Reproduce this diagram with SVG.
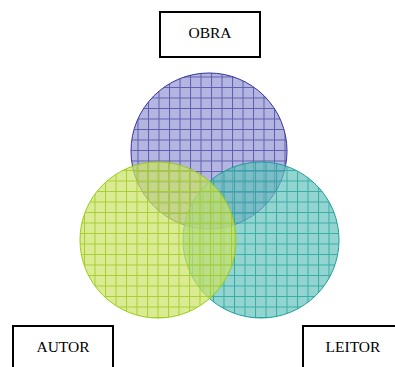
<svg xmlns="http://www.w3.org/2000/svg" width="395" height="367" viewBox="0 0 395 367">
<style>
.box{fill:#fff;stroke:#000;stroke-width:2}
.lbl{font-family:"Liberation Serif",serif;font-size:15.5px;fill:#000;text-anchor:middle}
</style>
<defs>
<pattern id="chk" patternUnits="userSpaceOnUse" width="2" height="2">
<rect width="1" height="1" fill="#fff" fill-opacity="0.18"/>
<rect x="1" y="1" width="1" height="1" fill="#fff" fill-opacity="0.18"/>
</pattern>
<pattern id="pP" patternUnits="userSpaceOnUse" width="10.5" height="10.5" x="1" y="3">
<rect width="10.5" height="10.5" fill="#8e8ed2" fill-opacity="0.72"/>
<rect width="10.5" height="10.5" fill="url(#chk)"/>
<path d="M0 0.5H10.5M0.5 0V10.5" stroke="#3a3a9c" stroke-width="1" stroke-opacity="0.7"/>
</pattern>
<pattern id="pY" patternUnits="userSpaceOnUse" width="10.5" height="10.5" x="0" y="2">
<rect width="10.5" height="10.5" fill="#c4de50" fill-opacity="0.68"/>
<rect width="10.5" height="10.5" fill="url(#chk)"/>
<path d="M0 0.5H10.5M0.5 0V10.5" stroke="#9ccc22" stroke-width="1" stroke-opacity="0.85"/>
</pattern>
<pattern id="pT" patternUnits="userSpaceOnUse" width="10.5" height="10.5" x="3" y="2">
<rect width="10.5" height="10.5" fill="#4ab8b0" fill-opacity="0.66"/>
<rect width="10.5" height="10.5" fill="url(#chk)"/>
<path d="M0 0.5H10.5M0.5 0V10.5" stroke="#1a9e98" stroke-width="1" stroke-opacity="0.75"/>
</pattern>
</defs>
<g id="circles">
<circle id="obra-circle" cx="209" cy="151" r="78" fill="url(#pP)" stroke="#33339a" stroke-width="1"/>
<circle id="leitor-circle" cx="261" cy="240" r="78" fill="url(#pT)" stroke="#1a9f9a" stroke-width="1"/>
<circle id="autor-circle" cx="158" cy="240" r="78" fill="url(#pY)" stroke="#99cc11" stroke-width="1"/>
</g>
<g id="obra">
<rect class="box" x="160" y="12" width="100" height="45"/>
<text class="lbl" x="210" y="37.5">OBRA</text>
</g>
<g id="autor">
<rect class="box" x="13" y="326" width="100" height="50"/>
<text class="lbl" x="63" y="352">AUTOR</text>
</g>
<g id="leitor">
<rect class="box" x="303" y="326" width="100" height="50"/>
<text class="lbl" x="353" y="352">LEITOR</text>
</g>
</svg>
